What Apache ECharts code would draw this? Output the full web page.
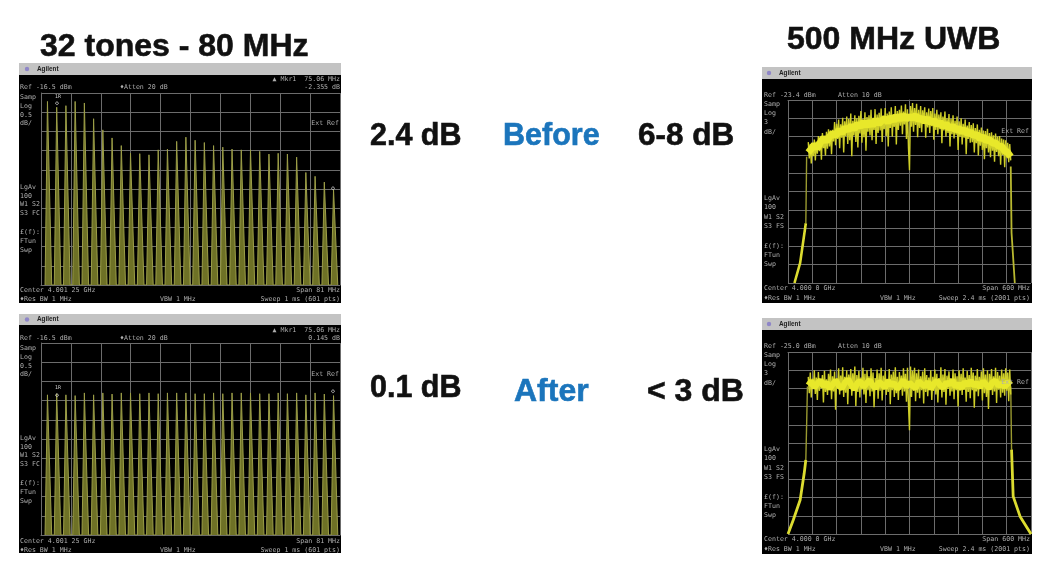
<!DOCTYPE html>
<html><head><meta charset="utf-8">
<style>html,body{margin:0;background:#fff}#c{width:1050px;height:581px;filter:blur(0.6px)}</style>
<script src="https://cdn.jsdelivr.net/npm/echarts@6/dist/echarts.min.js"></script>
</head><body><div id="c"></div>
<script>
// tone frequencies are 2 + 2.5k MHz inside an 81 MHz span
const toneOffsets = [2,4.5,7,9.5,12,14.5,17,19.5,22,24.5,27,29.5,32,34.5,37,39.5,42,44.5,47,49.5,52,54.5,57,59.5,62,64.5,67,69.5,72,74.5,77,79.5];
const tonesBefore = [-16.72,-16.87,-16.83,-16.72,-16.76,-17.17,-17.46,-17.67,-17.87,-18.07,-18.08,-18.11,-17.98,-17.96,-17.76,-17.65,-17.73,-17.79,-17.87,-17.91,-17.96,-17.98,-17.98,-18.02,-18.09,-18.07,-18.09,-18.17,-18.57,-18.67,-18.82,-19.02];
const tonesAfter = [-17.85,-17.82,-17.85,-17.87,-17.80,-17.85,-17.80,-17.83,-17.80,-17.80,-17.82,-17.80,-17.82,-17.80,-17.80,-17.80,-17.82,-17.82,-17.80,-17.82,-17.80,-17.80,-17.80,-17.82,-17.82,-17.80,-17.82,-17.80,-17.85,-17.80,-17.83,-17.87];
// UWB band trace, dB below reference, read across -250..+250 MHz
const uwbBefore = [
-6.9,-9.6,-7.2,-10.4,-7.6,-9.2,-6.5,-9.9,-6.8,-8.8,
-5.9,-8.4,-6.1,-9.8,-5.4,-7.9,-6.6,-9.1,-5.2,-8.0,
-4.8,-7.6,-5.0,-8.9,-4.9,-6.8,-3.6,-7.4,-3.9,-6.4,
-3.2,-7.9,-4.0,-6.2,-2.9,-8.6,-3.5,-5.9,-2.7,-7.2,
-3.1,-6.6,-2.2,-9.2,-3.4,-5.8,-2.5,-6.9,-3.0,-7.8,
-2.6,-5.5,-1.8,-7.0,-3.1,-6.1,-2.0,-8.3,-2.8,-5.2,
-2.5,-5.8,-1.6,-6.6,-2.9,-4.9,-1.5,-7.2,-2.4,-5.4,
-2.1,-5.0,-1.4,-6.9,-2.6,-4.8,-1.3,-5.9,-2.2,-7.6,
-1.9,-4.6,-1.2,-6.0,-2.3,-4.4,-1.0,-7.3,-1.8,-4.9,
-1.6,-4.2,-0.9,-5.6,-1.9,-4.0,-0.7,-6.4,-1.5,-7.9,
-11.5,-1.0,-4.4,-0.5,-5.2,-1.3,-4.1,-0.6,-6.1,-1.6,
-4.6,-1.0,-5.3,-1.7,-3.9,-1.2,-6.2,-2.0,-4.5,-1.4,
-5.4,-1.8,-4.3,-1.3,-6.5,-2.2,-4.9,-1.6,-5.6,-2.4,
-4.8,-2.0,-7.1,-2.7,-5.0,-1.9,-6.0,-3.0,-5.4,-2.3,
-7.6,-3.1,-5.6,-2.5,-6.3,-3.4,-5.7,-2.7,-8.2,-3.5,
-6.0,-3.0,-7.3,-3.9,-6.2,-3.2,-8.9,-4.2,-6.4,-3.6,
-7.0,-4.1,-6.9,-3.8,-8.6,-4.6,-7.1,-4.0,-9.1,-4.9,
-7.5,-4.5,-8.2,-5.0,-9.7,-5.1,-7.9,-4.7,-8.6,-5.4,
-9.4,-5.3,-8.3,-5.8,-10.1,-5.5,-8.5,-6.0,-9.2,-5.9,
-10.6,-6.3,-9.0,-6.5,-11.0,-6.6,-9.4,-7.0,-10.2,-7.2,-9.9];
const uwbAfter = [
-4.1,-6.8,-3.4,-7.5,-4.4,-6.1,-3.0,-6.9,-4.2,-7.9,
-3.3,-6.4,-4.6,-6.0,-3.8,-8.3,-3.1,-6.6,-4.5,-7.1,
-3.6,-6.2,-2.9,-7.8,-4.0,-6.5,-3.2,-9.5,-4.3,-6.0,
-2.7,-7.0,-3.9,-6.3,-2.5,-7.4,-4.1,-6.7,-3.0,-8.6,
-3.7,-6.1,-2.8,-7.2,-3.5,-6.4,-2.4,-8.9,-3.8,-6.6,
-3.1,-7.5,-4.2,-6.2,-2.6,-7.0,-3.6,-8.4,-3.0,-6.3,
-4.0,-7.3,-2.7,-6.5,-3.4,-9.1,-4.3,-6.1,-2.9,-7.7,
-3.5,-6.4,-2.6,-8.0,-3.9,-6.2,-3.1,-7.1,-4.4,-6.6,
-2.8,-8.6,-3.7,-6.3,-3.2,-7.4,-2.5,-6.8,-4.1,-7.9,
-3.3,-6.2,-3.9,-7.2,-2.7,-6.5,-3.6,-8.2,-2.6,-8.8,
-12.9,-2.4,-7.4,-3.1,-6.4,-2.6,-8.1,-3.5,-6.7,-2.9,
-7.6,-4.0,-6.3,-3.2,-8.5,-2.7,-6.6,-3.8,-7.3,-4.2,
-6.1,-3.0,-7.9,-4.1,-6.4,-2.9,-7.0,-3.6,-8.3,-4.3,
-6.2,-2.5,-7.5,-3.7,-6.6,-2.8,-8.7,-3.9,-6.1,-3.2,
-7.2,-4.4,-6.5,-2.9,-7.8,-3.5,-6.3,-4.0,-9.0,-3.0,
-6.4,-3.6,-7.1,-2.7,-6.2,-4.2,-8.2,-3.1,-6.6,-3.8,
-7.6,-2.6,-6.3,-3.4,-9.2,-3.9,-6.5,-2.8,-7.3,-4.1,
-6.1,-3.2,-8.0,-2.7,-6.8,-3.7,-7.4,-3.0,-9.4,-3.6,
-6.3,-2.8,-7.1,-4.0,-6.5,-2.6,-8.4,-3.3,-6.2,-3.9,
-7.5,-2.9,-6.7,-3.5,-7.2,-2.7,-6.4,-3.4,-8.1,-2.9,-7.0];
// bright dense core of each trace
const coreBefore = [-8.6,-8.0,-7.3,-7.9,-6.9,-6.2,-6.8,-6.0,-5.4,-5.9,-4.9,-5.4,-4.5,-5.0,-4.2,-4.8,-3.9,-4.4,-3.6,-4.3,-3.5,-4.2,-3.2,-3.9,-3.4,-3.0,-3.7,-2.8,-3.4,-2.6,-3.2,-2.5,-3.1,-2.7,-3.0,-2.5,-3.3,-2.9,-3.6,-3.0,-3.8,-3.3,-4.1,-3.6,-4.4,-3.9,-4.7,-4.2,-5.0,-4.6,-5.3,-4.8,-5.6,-5.2,-5.9,-5.6,-6.4,-6.0,-6.7,-6.4,-7.1,-7.0,-7.6,-7.6,-8.3,-8.6,-9.3];
const coreAfter = [-5.5,-4.8,-5.9,-5.2,-4.6,-5.7,-5.0,-6.1,-5.3,-4.7,-5.6,-6.0,-5.0,-4.5,-5.4,-6.2,-5.1,-4.8,-5.8,-5.2,-4.6,-5.5,-6.0,-4.9,-5.3,-5.9,-4.7,-5.5,-5.1,-6.1,-5.4,-4.6,-5.8,-5.0,-5.6,-6.0,-4.8,-5.3,-5.7,-4.9,-6.1,-5.2,-4.7,-5.5,-5.9,-5.0,-5.4,-4.6,-5.8,-5.2,-6.0,-4.9,-5.5,-4.7,-5.6,-5.1,-5.9,-4.8,-5.4,-6.0,-5.0,-4.7,-5.6,-5.2,-5.8,-4.9,-5.4];
const skirtBeforeLeft = [[-284,-30],[-270,-26.7],[-262,-23],[-256,-20.2]];
const riseBeforeLeft = [[-256,-20.2],[-255,-15],[-254,-9.3]];
const skirtBeforeRight = [[250,-10.9],[252,-21.8],[260,-30]];
const skirtAfterLeft = [[-300,-30],[-287,-27.7],[-270,-24.4],[-260,-20],[-256,-17.8]];
const riseAfterLeft = [[-256,-17.8],[-254,-12],[-252,-5.7]];
const skirtAfterRight1 = [[250,-5.7],[251,-11],[252,-16.1]];
const skirtAfterRight2 = [[252,-16.1],[256,-23.8],[273,-27.1],[300,-30]];

const GRID='#6c6c6c';
const panels=[
 {l:41,t:93,w:299,h:192,xMin:0,xMax:81,xI:8.1,yMin:-21.5,yMax:-16.5,yI:0.5},
 {l:788,t:100,w:243,h:183,xMin:-300,xMax:300,xI:60,yMin:-30,yMax:0,yI:3},
 {l:41,t:343,w:299,h:192,xMin:0,xMax:81,xI:8.1,yMin:-21.5,yMax:-16.5,yI:0.5},
 {l:788,t:352,w:243,h:182,xMin:-300,xMax:300,xI:60,yMin:-30,yMax:0,yI:3}];
const axLine={show:true,lineStyle:{color:GRID,width:1}};
const grid=panels.map(p=>({left:p.l,top:p.t,width:p.w,height:p.h,show:false}));
const xAxis=panels.map((p,i)=>({gridIndex:i,type:'value',min:p.xMin,max:p.xMax,interval:p.xI,axisLabel:{show:false},axisTick:{show:false},axisLine:axLine,splitLine:axLine}));
const yAxis=panels.map((p,i)=>({gridIndex:i,type:'value',min:p.yMin,max:p.yMax,interval:p.yI,axisLabel:{show:false},axisTick:{show:false},axisLine:axLine,splitLine:axLine}));

const HW=0.9,TOP=0.25;
function spikes(vals){const d=[];vals.forEach((v,i)=>{const f=toneOffsets[i];d.push([f-HW,-21.5],[f-TOP,v],[f+TOP,v],[f+HW,-21.5]);});return d;}
function toneSeries(vals,i){return {type:'line',xAxisIndex:i,yAxisIndex:i,data:spikes(vals),showSymbol:false,silent:true,animation:false,clip:true,
  lineStyle:{color:'#9c9e48',width:1},areaStyle:{color:'#6e7126',opacity:1,origin:'start'}};}
function bandData(vals){return vals.map((v,i)=>[-250+i*500/(vals.length-1),v]);}
function tr(data,i,color,w){return {type:'line',xAxisIndex:i,yAxisIndex:i,data,showSymbol:false,silent:true,animation:false,clip:true,lineStyle:{color,width:w}};}
const series=[
 toneSeries(tonesBefore,0),
 tr(skirtBeforeLeft,1,'#dcdc30',2.6),tr(riseBeforeLeft,1,'#9a9a30',1.4),tr(skirtBeforeRight,1,'#b8b830',1.8),
 tr(bandData(uwbBefore),1,'#cfcf28',1.4),tr(bandData(coreBefore),1,'#e8e82a',7),
 toneSeries(tonesAfter,2),
 tr(skirtAfterLeft,3,'#dcdc30',2.8),tr(riseAfterLeft,3,'#9a9a30',1.4),tr(skirtAfterRight1,3,'#9a9a30',1.4),tr(skirtAfterRight2,3,'#dcdc30',2.8),
 tr(bandData(uwbAfter),3,'#cfcf28',1.4),tr(bandData(coreAfter),3,'#e8e82a',6)
];

const g=[];
function rect(x,y,w,h,c){g.push({type:'rect',z:-100,shape:{x,y,width:w,height:h},style:{fill:c},silent:true});}
function txt(s,x,y,o){o=o||{};g.push({type:'text',z:100,x,y,silent:true,style:{text:s,fill:o.c||'#aeaeae',stroke:o.st||null,lineWidth:o.st?0.6:0,font:(o.f||'6.6px "DejaVu Sans Mono"'),textAlign:o.a||'left',textVerticalAlign:'middle'}});}
function frame(x,y,w,h,bar,dotx){rect(x,y,w,h,'#000');rect(x,y,w,bar,'#c3c3c3');
  g.push({type:'circle',z:-90,shape:{cx:dotx,cy:y+bar/2,r:2.2},style:{fill:'#8f86c8'},silent:true});
  txt('Agilent',dotx+10,y+bar/2,{c:'#222',f:'bold 6.4px "Liberation Sans"'});}
frame(19,63,322,240,12,27);frame(762,67,270,236,12,769);
frame(19,314,322,239,11,27);frame(762,318,270,236,12,769);

function leftInstr(dy,delta){
 txt('Ref -16.5 dBm',20,87+dy);txt('\u2666Atten 20 dB',120,87+dy);
 txt('\u25B2 Mkr1  75.06 MHz',340,79+dy,{a:'right'});txt(delta,340,87+dy,{a:'right'});
 [['Samp',97],['Log',106],['0.5',115],['dB/',123],['LgAv',187],['100',196],['W1 S2',204],['S3 FC',213],['\u00A3(f):',232],['FTun',241],['Swp',250],['Center 4.001 25 GHz',290],['\u2666Res BW 1 MHz',299]].forEach(a=>txt(a[0],20,a[1]+dy));
 txt('Ext Ref',339,123+dy,{a:'right'});txt('Span 81 MHz',340,290+dy,{a:'right'});
 txt('VBW 1 MHz',160,299+dy);txt('Sweep 1 ms (601 pts)',340,299+dy,{a:'right'});
}
leftInstr(0,'-2.355 dB');leftInstr(251,'0.145 dB');
txt('\u25C7',55,103,{c:'#ddd'});txt('1R',55,97,{c:'#ccc',f:'5px "DejaVu Sans Mono"'});txt('\u25C7',331,188,{c:'#ddd'});
txt('\u25C7',55,395,{c:'#ddd'});txt('1R',55,388,{c:'#ccc',f:'5px "DejaVu Sans Mono"'});txt('\u25C7',331,391,{c:'#ddd'});

function rightInstr(dy,ref){
 txt('Ref '+ref+' dBm',764,95+dy);txt('Atten 10 dB',838,95+dy);
 [['Samp',104],['Log',113],['3',122],['dB/',132],['LgAv',198],['100',207],['W1 S2',217],['S3 FS',226],['\u00A3(f):',246],['FTun',255],['Swp',264],['Center 4.000 0 GHz',288],['\u2666Res BW 1 MHz',298]].forEach(a=>txt(a[0],764,a[1]+dy));
 txt('Ext Ref',1029,131+dy,{a:'right'});txt('Span 600 MHz',1030,288+dy,{a:'right'});
 txt('VBW 1 MHz',880,298+dy);txt('Sweep 2.4 ms (2001 pts)',1030,298+dy,{a:'right'});
}
rightInstr(0,'-23.4');rightInstr(251.5,'-25.0');

const F='"Liberation Sans"';
const K={c:'#111',st:'#111'},B={c:'#1b75bc',st:'#1b75bc'};
txt('32 tones - 80 MHz',40,47.5,{...K,f:'bold 32px '+F});
txt('500 MHz UWB',787,40.5,{...K,f:'bold 32px '+F});
txt('2.4 dB',370,136.5,{...K,f:'bold 30.5px '+F});
txt('Before',503,136.5,{...B,f:'bold 30.5px '+F});
txt('6-8 dB',638,136.5,{...K,f:'bold 31.5px '+F});
txt('0.1 dB',370,388.5,{...K,f:'bold 30.5px '+F});
txt('After',514,392.5,{...B,f:'bold 32px '+F});
txt('< 3 dB',647,392.5,{...K,f:'bold 32px '+F});

const chart=echarts.init(document.getElementById('c'),null,{renderer:'canvas'});
chart.setOption({animation:false,backgroundColor:'#fff',grid,xAxis,yAxis,series,graphic:{elements:g}});
</script></body></html>
